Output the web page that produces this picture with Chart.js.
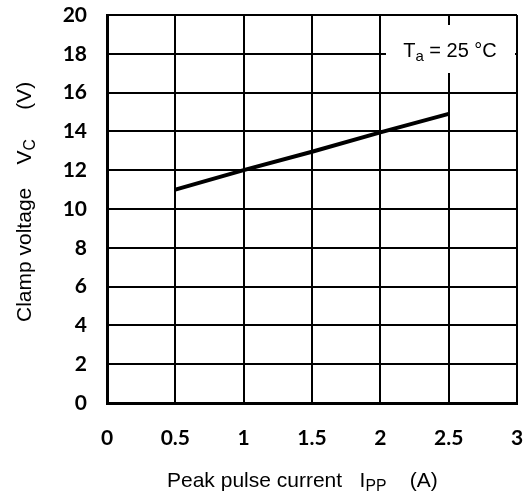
<!DOCTYPE html>
<html>
<head>
<meta charset="utf-8">
<script src="https://cdn.jsdelivr.net/npm/chart.js@4/dist/chart.umd.min.js"></script>
<style>
  html, body { margin: 0; padding: 0; background: #fff; }
  #box { width: 525px; height: 500px; }
</style>
</head>
<body>
<div id="box"><canvas id="myChart"></canvas></div>
<script>
// data
const currentA = [0.5, 1, 1.5, 2, 2.5];
const clampV = [11, 12, 12.95, 13.95, 14.9];

const xTicks = [0, 0.5, 1, 1.5, 2, 2.5, 3];
const yTicks = [0, 2, 4, 6, 8, 10, 12, 14, 16, 18, 20];

const tickFont = { family: 'Lato', size: 21, weight: 'bold' };
const titleFamily = '"Liberation Sans", Arial, sans-serif';

// text with a subscript part, drawn left to right from x
function drawSub(ctx, parts, x, y, size) {
    let cx = x;
    parts.forEach(p => {
        const s = p.sub ? size * 0.75 : size;
        ctx.font = s + 'px ' + titleFamily;
        ctx.fillText(p.t, cx, y + (p.sub ? size * 0.28 : 0));
        cx += ctx.measureText(p.t).width;
    });
    return cx - x;
}

function measureSub(ctx, parts, size) {
    let w = 0;
    parts.forEach(p => {
        const s = p.sub ? size * 0.75 : size;
        ctx.font = s + 'px ' + titleFamily;
        w += ctx.measureText(p.t).width;
    });
    return w;
}

const xTitle = [{ t: 'Peak pulse current   ' }, { t: 'I' }, { t: 'PP', sub: true }, { t: '    (A)' }];
const yTitle = [{ t: 'Clamp voltage    ' }, { t: 'V' }, { t: 'C', sub: true }, { t: '     (V)' }];
const note = [{ t: 'T' }, { t: 'a', sub: true }, { t: ' = 25 °C' }];

const extras = {
    id: 'extras',
    beforeDatasetsDraw(chart) {
        const ctx = chart.ctx;
        const a = chart.chartArea;
        ctx.save();
        // white box behind the temperature note
        ctx.fillStyle = '#fff';
        ctx.fillRect(a.right - 131, a.top + 10, 129, 48);
        ctx.fillStyle = '#000';
        ctx.textBaseline = 'middle';
        ctx.textAlign = 'left';
        const w = measureSub(ctx, note, 20);
        drawSub(ctx, note, a.right - 67 - w / 2, a.top + 36, 20);
        ctx.restore();
    },
    afterDraw(chart) {
        const ctx = chart.ctx;
        ctx.save();
        ctx.fillStyle = '#000';
        ctx.textBaseline = 'middle';
        ctx.textAlign = 'left';
        const size = 21;
        drawSub(ctx, xTitle, 167, 481, size);

        ctx.translate(25, 322);
        ctx.rotate(-Math.PI / 2);
        drawSub(ctx, yTitle, 0, 0, size);
        ctx.restore();
    }
};

const chart = new Chart('myChart', {
    type: 'scatter',
    data: {
        datasets: [{
            data: currentA.map((x, i) => ({ x: x, y: clampV[i] })),
            showLine: true,
            borderColor: '#000',
            borderWidth: 4,
            pointRadius: 0,
            tension: 0
        }]
    },
    options: {
        responsive: true,
        maintainAspectRatio: false,
        animation: false,
        layout: { padding: { top: 15, right: 8, left: 0, bottom: 0 } },
        plugins: {
            legend: { display: false },
            tooltip: { enabled: false }
        },
        scales: {
            x: {
                type: 'linear',
                min: 0,
                max: 3,
                afterBuildTicks: s => { s.ticks = xTicks.map(v => ({ value: v })); },
                afterFit: s => { s.height = 97; s.paddingLeft = 0; s.paddingRight = 0; },
                ticks: {
                    color: '#000',
                    font: tickFont,
                    padding: 23,
                    maxRotation: 0,
                    callback: v => String(v)
                },
                grid: { color: '#000', lineWidth: 2, drawTicks: false },
                border: { color: '#000', width: 3 }
            },
            y: {
                min: 0,
                max: 20,
                afterBuildTicks: s => { s.ticks = yTicks.map(v => ({ value: v })); },
                afterFit: s => { s.width = 107; s.paddingTop = 0; s.paddingBottom = 0; },
                ticks: {
                    color: '#000',
                    font: tickFont,
                    padding: 20
                },
                grid: { color: '#000', lineWidth: 2, drawTicks: false },
                border: { color: '#000', width: 3 }
            }
        }
    },
    plugins: [extras]
});
</script>
</body>
</html>
